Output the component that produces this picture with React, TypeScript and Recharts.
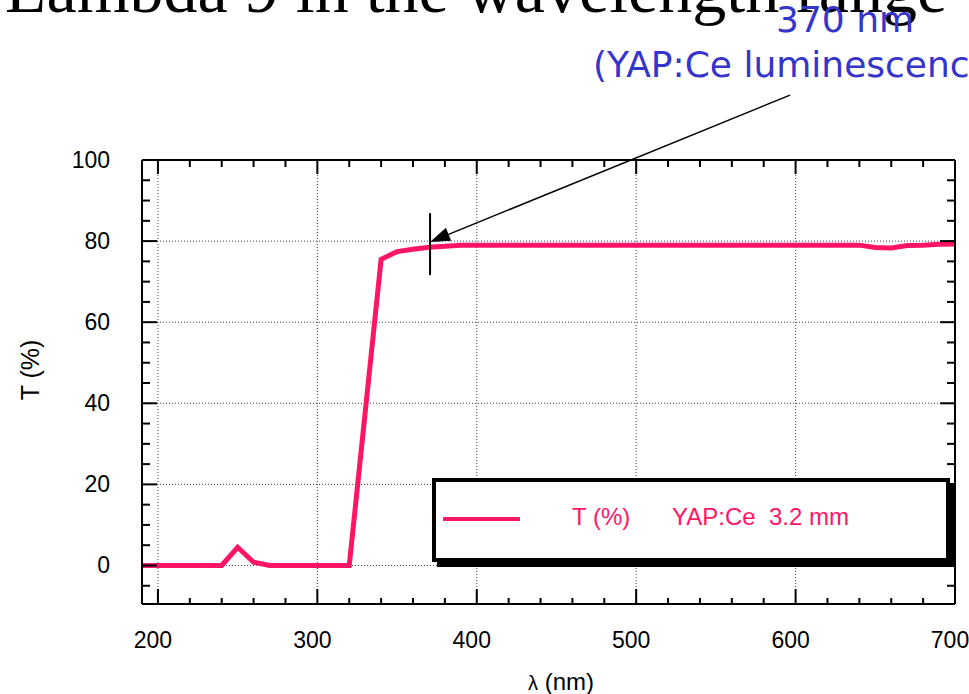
import React from "react";
import {
  CartesianGrid,
  Legend,
  Line,
  LineChart,
  ReferenceLine,
  XAxis,
  YAxis,
} from "recharts";

// Transmission of YAP:Ce 3.2 mm
const wavelength = [
  190, 200, 210, 220, 230, 240, 250, 260, 270, 280, 290, 300, 310, 320, 340,
  350, 360, 370, 380, 390, 400, 410, 420, 430, 440, 450, 460, 470, 480, 490,
  500, 510, 520, 530, 540, 550, 560, 570, 580, 590, 600, 610, 620, 630, 640,
  650, 660, 670, 680, 690, 700,
];
const transmission = [
  0, 0, 0, 0, 0, 0, 4.5, 0.8, 0, 0, 0, 0, 0, 0, 75.5,
  77.4, 78, 78.5, 78.7, 79, 79, 79, 79, 79, 79, 79, 79, 79, 79, 79,
  79, 79, 79, 79, 79, 79, 79, 79, 79, 79, 79, 79, 79, 79, 79,
  78.4, 78.3, 78.9, 79, 79.2, 79.3,
];

const xMajor = [200, 300, 400, 500, 600, 700];
const xMinor = [220, 240, 260, 280, 320, 340, 360, 380, 420, 440, 460, 480, 520, 540, 560, 580, 620, 640, 660, 680];
const yMajor = [0, 20, 40, 60, 80, 100];
const yMinor = [-5, 5, 10, 15, 25, 30, 35, 45, 50, 55, 65, 70, 75, 85, 90, 95];

// annotation (data coordinates)
const markX = 370.7;
const markY = [71.6, 86.9];
const arrowTip = { x: 370.7, y: 79.8 };
const arrowTail = { x: 596.5, y: 116 };

const data = wavelength.map((w, i) => ({ w, t: transmission[i] }));

const PINK = "#ff1466";
const BLUE = "#3535cc";
const SANS = "'Liberation Sans', Arial, sans-serif";
const X_DOMAIN: [number, number] = [190, 700];
const Y_DOMAIN: [number, number] = [-9.5, 100];

const tickFn = (side: "b" | "t" | "l" | "r", len: number, label: boolean) =>
  (p: any) => {
    const { x, y, payload } = p;
    let line;
    let txt = null;
    if (side === "b") {
      line = <line x1={x} y1={y} x2={x} y2={y - len} stroke="#000" strokeWidth={2} />;
      if (label)
        txt = (
          <text x={x - 5} y={y + 44} textAnchor="middle" fontSize={23} fontFamily={SANS} fill="#000">
            {payload.value}
          </text>
        );
    } else if (side === "t") {
      line = <line x1={x} y1={y} x2={x} y2={y + len} stroke="#000" strokeWidth={2} />;
    } else if (side === "l") {
      line = <line x1={x} y1={y} x2={x + len} y2={y} stroke="#000" strokeWidth={2} />;
      if (label)
        txt = (
          <text x={x - 32} y={y + 8} textAnchor="end" fontSize={23} fontFamily={SANS} fill="#000">
            {payload.value}
          </text>
        );
    } else {
      line = <line x1={x} y1={y} x2={x - len} y2={y} stroke="#000" strokeWidth={2} />;
    }
    return (
      <g>
        {line}
        {txt}
      </g>
    );
  };

const Arrow = (p: any) => {
  const { x1, y1, x2, y2 } = p;
  // tip is the first point
  const dx = x2 - x1;
  const dy = y2 - y1;
  const d = Math.hypot(dx, dy);
  const ux = dx / d;
  const uy = dy / d;
  const hl = 20;
  const hw = 7;
  const bx = x1 + ux * hl;
  const by = y1 + uy * hl;
  return (
    <g>
      <line x1={bx} y1={by} x2={x2} y2={y2} stroke="#000" strokeWidth={1.5} />
      <polygon
        points={`${x1},${y1} ${bx - uy * hw},${by + ux * hw} ${bx + uy * hw},${by - ux * hw}`}
        fill="#000"
      />
    </g>
  );
};

const LegendBox = () => (
  <div
    style={{
      position: "relative",
      width: 518,
      height: 84,
      boxSizing: "border-box",
      border: "4px solid #000",
      boxShadow: "5px 5px 0 0 #000",
      background: "#fff",
      fontFamily: SANS,
      fontSize: 24,
      color: PINK,
    }}
  >
    <div style={{ position: "absolute", left: 7, top: 35, width: 77, height: 4, background: PINK }} />
    <span style={{ position: "absolute", left: 136, top: 21 }}>T (%)</span>
    <span style={{ position: "absolute", left: 236, top: 21, whiteSpace: "pre" }}>YAP:Ce  3.2 mm</span>
  </div>
);

const axisCommon = {
  type: "number" as const,
  allowDataOverflow: true,
  interval: 0 as const,
  tickSize: 0,
  tickMargin: 0,
  tickLine: false,
};

export default function App() {
  return (
    <div
      style={{
        position: "absolute",
        left: 0,
        top: 0,
        width: 969,
        height: 694,
        overflow: "hidden",
        background: "#fff",
      }}
    >
      <LineChart
        width={969}
        height={694}
        data={data}
        margin={{ top: 158, right: 12, bottom: 88, left: 140 }}
      >
        <CartesianGrid
          xAxisId="b"
          yAxisId="l"
          stroke="#444"
          strokeDasharray="1 2"
          strokeWidth={1}
        />
        <XAxis
          {...axisCommon}
          xAxisId="b"
          dataKey="w"
          domain={X_DOMAIN}
          ticks={xMajor}
          height={1}
          axisLine={{ stroke: "#000", strokeWidth: 2 }}
          tick={tickFn("b", 15, true)}
        />
        <XAxis
          {...axisCommon}
          xAxisId="bm"
          dataKey="w"
          domain={X_DOMAIN}
          ticks={xMinor}
          height={1}
          axisLine={false}
          tick={tickFn("b", 7, false)}
        />
        <XAxis
          {...axisCommon}
          xAxisId="t"
          orientation="top"
          dataKey="w"
          domain={X_DOMAIN}
          ticks={xMajor}
          height={1}
          axisLine={{ stroke: "#000", strokeWidth: 2 }}
          tick={tickFn("t", 14, false)}
        />
        <XAxis
          {...axisCommon}
          xAxisId="tm"
          orientation="top"
          dataKey="w"
          domain={X_DOMAIN}
          ticks={xMinor}
          height={1}
          axisLine={false}
          tick={tickFn("t", 8, false)}
        />
        <YAxis
          {...axisCommon}
          yAxisId="l"
          domain={Y_DOMAIN}
          ticks={yMajor}
          width={1}
          axisLine={{ stroke: "#000", strokeWidth: 2 }}
          tick={tickFn("l", 15, true)}
        />
        <YAxis
          {...axisCommon}
          yAxisId="lm"
          domain={Y_DOMAIN}
          ticks={yMinor}
          width={1}
          axisLine={false}
          tick={tickFn("l", 9, false)}
        />
        <YAxis
          {...axisCommon}
          yAxisId="r"
          orientation="right"
          domain={Y_DOMAIN}
          ticks={yMajor}
          width={1}
          axisLine={{ stroke: "#000", strokeWidth: 2 }}
          tick={tickFn("r", 15, false)}
        />
        <YAxis
          {...axisCommon}
          yAxisId="rm"
          orientation="right"
          domain={Y_DOMAIN}
          ticks={yMinor}
          width={1}
          axisLine={false}
          tick={tickFn("r", 9, false)}
        />
        <Line
          xAxisId="b"
          yAxisId="l"
          type="linear"
          dataKey="t"
          name="T (%)"
          stroke={PINK}
          strokeWidth={5}
          dot={false}
          isAnimationActive={false}
        />
        <ReferenceLine
          xAxisId="b"
          yAxisId="l"
          segment={[
            { x: markX, y: markY[0] },
            { x: markX, y: markY[1] },
          ]}
          stroke="#000"
          strokeWidth={2}
          ifOverflow="visible"
        />
        <ReferenceLine
          xAxisId="b"
          yAxisId="l"
          segment={[arrowTip, arrowTail]}
          ifOverflow="visible"
          shape={Arrow}
        />
        <Legend
          layout="horizontal"
          verticalAlign="middle"
          align="center"
          wrapperStyle={{ left: 432, top: 478, width: 524, height: 90 }}
          content={LegendBox}
        />
      </LineChart>
      <svg
        width={969}
        height={694}
        style={{ position: "absolute", left: 0, top: 0, pointerEvents: "none" }}
      >
        <text x={5} y={12} fontSize={68} fontFamily="'Liberation Serif', 'Times New Roman', serif" fill="#000">
          Lambda 9 in the wavelength range
        </text>
        <text x={776} y={32} fontSize={36} fontFamily="'DejaVu Sans', Verdana, sans-serif" fill={BLUE}>
          370 nm
        </text>
        <text x={593} y={77} fontSize={36} fontFamily="'DejaVu Sans', Verdana, sans-serif" fill={BLUE}>
          (YAP:Ce luminescence)
        </text>
        <text
          x={30}
          y={370}
          transform="rotate(-90 30 370)"
          textAnchor="middle"
          dominantBaseline="central"
          fontSize={25}
          fontFamily={SANS}
          fill="#000"
        >
          T (%)
        </text>
        <text x={561} y={690} textAnchor="middle" fontSize={24} fontFamily={SANS} fill="#000">
          <tspan fontSize={20}>λ</tspan> (nm)
        </text>
      </svg>
    </div>
  );
}
